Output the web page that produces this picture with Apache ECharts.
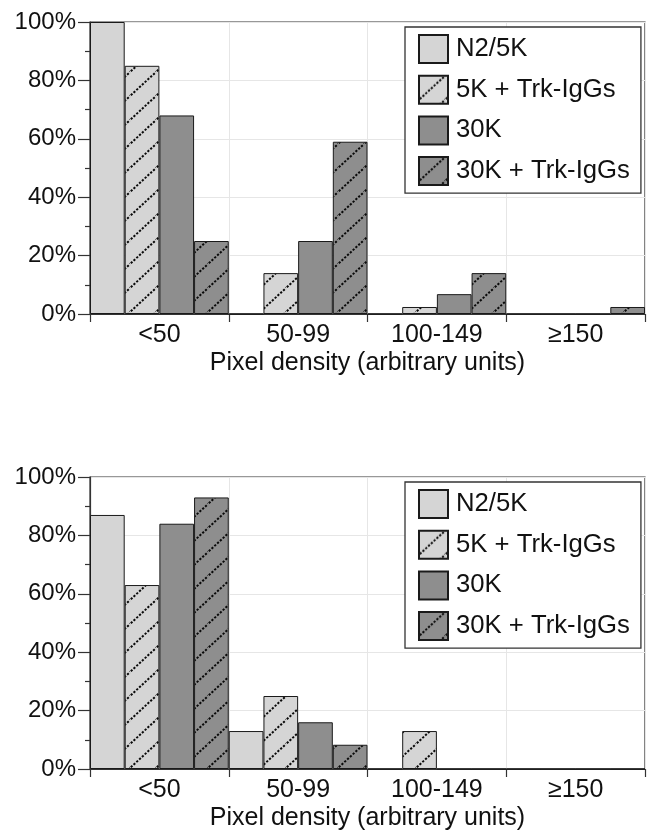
<!DOCTYPE html>
<html>
<head>
<meta charset="utf-8">
<script src="https://cdn.jsdelivr.net/npm/echarts@6/dist/echarts.min.js"></script>
<style>
html,body{margin:0;padding:0;background:#fff;}
#chart{width:650px;height:832px;}
</style>
</head>
<body>
<div id="chart"></div>
<script>
// ---- data ----
const categories = ['<50', '50-99', '100-149', '≥150'];
const seriesNames = ['N2/5K', '5K + Trk-IgGs', '30K', '30K + Trk-IgGs'];
const xAxisTitle = 'Pixel density (arbitrary units)';

// top panel (percent)
const topN2 = [100, 0, 0, 0];
const top5KTrk = [85, 14, 2.4, 0];
const top30K = [68, 25, 6.8, 0];
const top30KTrk = [25, 59, 14, 2.4];

// bottom panel (percent)
const botN2 = [87, 13, 0, 0];
const bot5KTrk = [63, 25, 13, 0];
const bot30K = [84, 16, 0, 0];
const bot30KTrk = [93, 8.3, 0, 0];

// ---- styling ----
const FONT = '"Liberation Sans", Arial, Helvetica, sans-serif';
const LIGHT = '#d5d5d5';
const DARK = '#8e8e8e';
const TXT = '#111';

function hatch(bg) {
  const W = 26, H = 24;
  const c = document.createElement('canvas');
  c.width = W; c.height = H;
  const g = c.getContext('2d');
  g.fillStyle = bg;
  g.fillRect(0, 0, W, H);
  g.strokeStyle = '#0a0a0a';
  g.lineWidth = 2;
  g.setLineDash([2.2, 1.6]);
  for (const off of [0, H, 2 * H]) {
    g.beginPath();
    g.moveTo(-2, off + 2 * H / W);
    g.lineTo(W + 2, off - H - 2 * H / W);
    g.stroke();
  }
  return { image: c, repeat: 'repeat' };
}

const fills = [LIGHT, hatch(LIGHT), DARK, hatch(DARK)];

const chart = echarts.init(document.getElementById('chart'), null, { renderer: 'canvas' });

function gridCfg(top) {
  return {
    left: 90, right: 5, top: top, height: 292,
    show: true, borderColor: '#333', borderWidth: 1.2, backgroundColor: 'transparent'
  };
}
function xAxisCfg(i) {
  return {
    type: 'category', gridIndex: i, data: categories,
    boundaryGap: true,
    axisLine: { show: true, lineStyle: { color: '#333', width: 1.2 } },
    axisTick: { show: true, length: 8, lineStyle: { color: '#333', width: 1.2 } },
    axisLabel: { fontSize: 25, fontFamily: FONT, color: TXT, margin: 9 },
    splitLine: { show: true, lineStyle: { color: '#e6e6e6', width: 1 } },
    name: xAxisTitle, nameLocation: 'middle', nameGap: 37,
    nameTextStyle: { fontSize: 25, fontFamily: FONT, color: TXT }
  };
}
function yAxisCfg(i) {
  return {
    type: 'value', gridIndex: i, min: 0, max: 100, interval: 20,
    axisLine: { show: true, lineStyle: { color: '#333', width: 1.2 } },
    axisTick: { show: true, length: 12, lineStyle: { color: '#333', width: 1.2 } },
    minorTick: { show: true, splitNumber: 2, length: 5, lineStyle: { color: '#333', width: 1.2 } },
    axisLabel: { formatter: '{value}%', fontSize: 24, fontFamily: FONT, color: TXT, margin: 14 },
    splitLine: { show: true, lineStyle: { color: '#e6e6e6', width: 1 } }
  };
}
function legendCfg(top) {
  return {
    orient: 'vertical', left: 405, top: top,
    data: seriesNames,
    icon: 'rect', itemWidth: 29, itemHeight: 28, itemGap: 10.7,
    padding: [7, 11, 7, 13],
    backgroundColor: '#fff', borderColor: '#333', borderWidth: 1.3, borderRadius: 0,
    textStyle: { fontSize: 25.7, fontFamily: FONT, color: TXT, padding: [0, 0, 0, 3] },
    selectedMode: false
  };
}

const panels = [
  [topN2, top5KTrk, top30K, top30KTrk],
  [botN2, bot5KTrk, bot30K, bot30KTrk]
];
const series = [];
panels.forEach((vals, p) => {
  vals.forEach((arr, k) => {
    series.push({
      type: 'bar', name: seriesNames[k],
      xAxisIndex: p, yAxisIndex: p,
      data: arr,
      barGap: '0%', barCategoryGap: '0%',
      itemStyle: { color: fills[k], borderColor: '#1a1a1a', borderWidth: 1 },
      emphasis: { disabled: true },
      animation: false
    });
  });
});

chart.setOption({
  animation: false,
  backgroundColor: '#fff',
  textStyle: { fontFamily: FONT },
  grid: [gridCfg(22), gridCfg(477)],
  xAxis: [xAxisCfg(0), xAxisCfg(1)],
  yAxis: [yAxisCfg(0), yAxisCfg(1)],
  legend: [legendCfg(27), legendCfg(482)],
  series: series
});
</script>
</body>
</html>
